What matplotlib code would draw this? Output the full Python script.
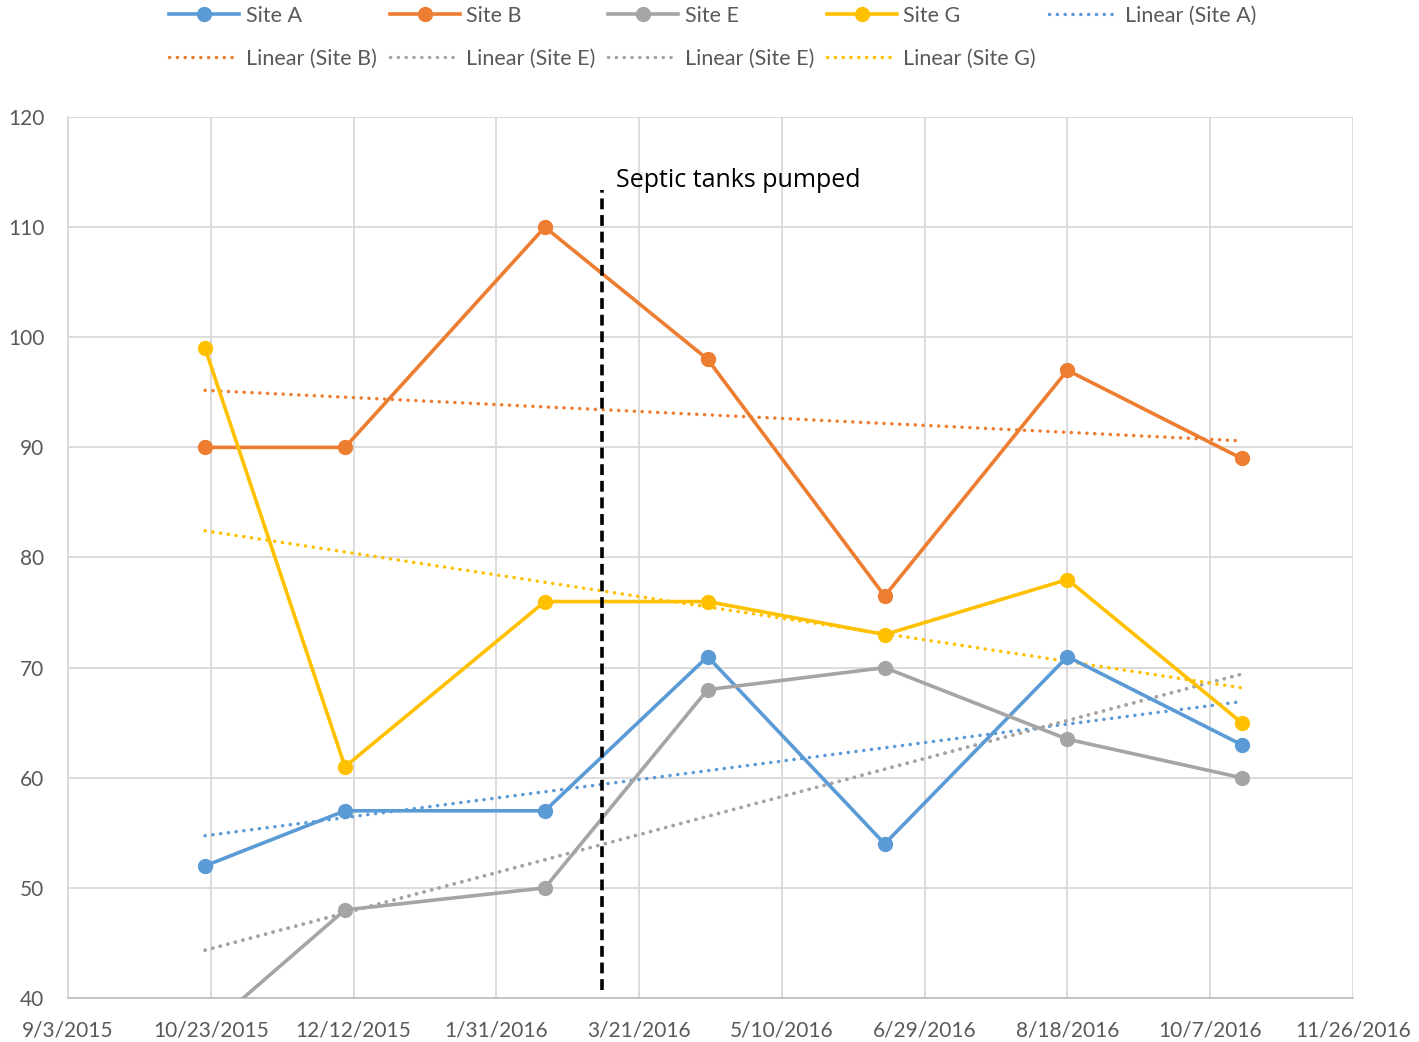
import datetime as dt
import numpy as np
import matplotlib
matplotlib.use("Agg")
import matplotlib.pyplot as plt
import matplotlib.dates as mdates
from matplotlib.lines import Line2D

plt.rcParams['font.family'] = ['Lato', 'DejaVu Sans']

# Sampling dates
dates = [dt.date(2015, 10, 21), dt.date(2015, 12, 9), dt.date(2016, 2, 17),
         dt.date(2016, 4, 14), dt.date(2016, 6, 15), dt.date(2016, 8, 18),
         dt.date(2016, 10, 18)]

site_a = [52, 57, 57, 71, 54, 71, 63]
site_b = [90, 90, 110, 98, 76.5, 97, 89]
site_e = [37, 48, 50, 68, 70, 63.5, 60]
site_g = [99, 61, 76, 76, 73, 78, 65]

pump_date = dt.date(2016, 3, 8)
pump_label = "Septic tanks pumped"

colors = {"A": "#5B9BD5", "B": "#ED7D31", "E": "#A5A5A5", "G": "#FFC000"}

LW = 2.6
MS = 10
TLW = 2.5
DOT = (0, (0.05, 2.2))

fig = plt.figure(figsize=(14.19, 10.42), dpi=100)
ax = fig.add_axes([68/1419, 44/1042, (1353-68)/1419, (998-117)/1042])

xnum = mdates.date2num(dates)

def trend(vals):
    k, b = np.polyfit(xnum, vals, 1)
    xs = np.array([xnum[0], xnum[-1]])
    return xs, k * xs + b

series = [("Site A", site_a, colors["A"]), ("Site B", site_b, colors["B"]),
          ("Site E", site_e, colors["E"]), ("Site G", site_g, colors["G"])]

for name, vals, c in series:
    ax.plot(xnum, vals, color=c, lw=LW, marker='o', ms=MS, zorder=3,
            solid_capstyle='round', solid_joinstyle='round')

trend_specs = [("Site A", site_a, colors["A"]), ("Site B", site_b, colors["B"]),
               ("Site E", site_e, colors["E"]), ("Site E", site_e, colors["E"]),
               ("Site G", site_g, colors["G"])]
for name, vals, c in trend_specs:
    xs, ys = trend(vals)
    ax.plot(xs, ys, color=c, lw=TLW, ls=DOT, dash_capstyle='round', zorder=2)

# Vertical marker for the pumping event
px = mdates.date2num(pump_date)
ax.plot([px, px], [40.7, 113.4], color='black', lw=2.6, ls=(0, (3, 1.6)), zorder=4)
ax.text(mdates.date2num(dt.date(2016, 3, 13)), 114.2, pump_label, fontsize=18,
        color='black', va='center', ha='left', family=['Open Sans', 'DejaVu Sans'])

start = dt.date(2015, 9, 3)
tick_dates = [start + dt.timedelta(days=50 * i) for i in range(10)]
ticks = mdates.date2num(tick_dates)
ax.set_xlim(ticks[0], ticks[-1])
ax.set_xticks(ticks)
ax.set_xticklabels([f"{d.month}/{d.day}/{d.year}" for d in tick_dates])
ax.set_ylim(40, 120)
ax.set_yticks(np.arange(40, 121, 10))

ax.grid(True, color='#D9D9D9', lw=1.3)
ax.set_axisbelow(True)
for s in ['top', 'right']:
    ax.spines[s].set_visible(False)
ax.spines['left'].set_color('#D9D9D9')
ax.spines['bottom'].set_color('#BFBFBF')
ax.spines['left'].set_linewidth(1.3)
ax.spines['bottom'].set_linewidth(1.3)
ax.tick_params(axis='both', length=0, labelsize=15, colors='#595959')
ax.tick_params(axis='x', pad=16)
ax.tick_params(axis='y', pad=17)

# Legend
def line_handle(c):
    return Line2D([], [], color=c, lw=LW, marker='o', ms=MS)

def dot_handle(c):
    return Line2D([], [], color=c, lw=TLW, ls=DOT, dash_capstyle='round')

h = {
    "A": line_handle(colors["A"]), "B": line_handle(colors["B"]),
    "E": line_handle(colors["E"]), "G": line_handle(colors["G"]),
    "LA": dot_handle(colors["A"]), "LB": dot_handle(colors["B"]),
    "LE": dot_handle(colors["E"]), "LG": dot_handle(colors["G"]),
}
order = [(h["A"], "Site A"), (h["LB"], "Linear (Site B)"),
         (h["B"], "Site B"), (h["LE"], "Linear (Site E)"),
         (h["E"], "Site E"), (h["LE"], "Linear (Site E)"),
         (h["G"], "Site G"), (h["LG"], "Linear (Site G)"),
         (h["LA"], "Linear (Site A)")]
leg = fig.legend([o[0] for o in order], [o[1] for o in order], ncol=5,
                 loc='upper left', bbox_to_anchor=(150/1419, 1.013), frameon=False,
                 fontsize=15.5, handlelength=3.25, handletextpad=0.3,
                 columnspacing=0.6, labelspacing=1.05)
for t in leg.get_texts():
    t.set_color('#595959')

fig.savefig("out.png", dpi=100)
